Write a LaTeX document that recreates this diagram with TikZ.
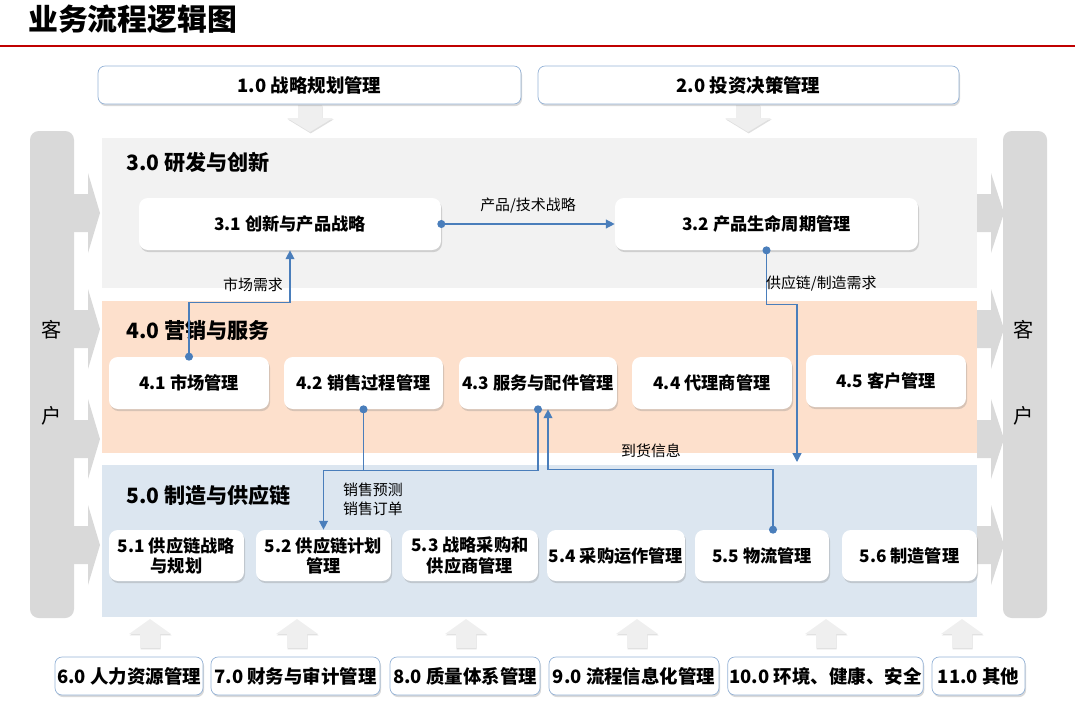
\documentclass[tikz,border=0pt]{standalone}
\usepackage{fontspec}
\setmainfont{Noto Sans CJK SC}
\usetikzlibrary{arrows.meta, positioning, calc, shadows}
\definecolor{TitleRed}{HTML}{C00000}
\definecolor{BandGray}{HTML}{F2F2F2}
\definecolor{BandPeach}{HTML}{FDE0CC}
\definecolor{BandBlue}{HTML}{DCE6F0}
\definecolor{CustGray}{HTML}{D9D9D9}
\definecolor{BoxBorder}{HTML}{95B3D7}
\definecolor{LinkBlue}{HTML}{4A7EBB}
\definecolor{ArrowFill}{HTML}{EFEFEF}

\begin{document}
\begin{tikzpicture}[
        x=0.02cm, y=-0.02cm,
        pbox/.style={rectangle, fill=white, rounded corners=5pt, minimum height=1.04cm, inner sep=1pt, align=center, font=\fontsize{9.8}{11.5}\selectfont\bfseries, drop shadow={shadow xshift=0.6pt, shadow yshift=-1.2pt, opacity=0.3}},
        obox/.style={rectangle, draw=BoxBorder, fill=white, rounded corners=4pt, minimum height=0.76cm, inner sep=1pt, font=\fontsize{10.5}{12}\selectfont\bfseries, drop shadow={shadow xshift=0.6pt, shadow yshift=-1.2pt, opacity=0.3}},
        bandtitle/.style={anchor=west, font=\fontsize{12}{14}\selectfont\bfseries},
        custtext/.style={font=\fontsize{11.5}{13}\selectfont},
        lbl/.style={font=\fontsize{8.5}{10.5}\selectfont, inner sep=1pt},
        link/.style={draw=LinkBlue, line width=0.75pt, -{Triangle[length=5pt, width=5pt]}},
        wire/.style={draw=LinkBlue, line width=0.75pt},
        dot/.style={fill=LinkBlue},
        blockarr/.style={fill=ArrowFill, drop shadow={shadow xshift=0.4pt, shadow yshift=-0.8pt, opacity=0.25}}
      ]
        \useasboundingbox (0,0) rectangle (1075,704);

        \node[anchor=west, font=\fontsize{17}{20}\selectfont\bfseries] (title) at (22,19) {业务流程逻辑图};
        \draw[TitleRed, line width=1.7pt] (0,46) -- (1075,46);

        \fill[BandGray] (102,138) rectangle (977,288);
        \fill[BandPeach] (102,301) rectangle (977,453);
        \fill[BandBlue] (102,465) rectangle (977,617);

        \fill[CustGray, rounded corners=5pt] (30,131) rectangle (74,618);
        \fill[CustGray, rounded corners=5pt] (1003,131) rectangle (1047,618);
        \foreach \yc in {213,329,439,545} {
          \fill[CustGray] (70,\yc-19) -- (88,\yc-19) -- (88,\yc-40) -- (100,\yc) -- (88,\yc+40) -- (88,\yc+19) -- (70,\yc+19) -- cycle;
          \fill[CustGray] (977,\yc-19) -- (991,\yc-19) -- (991,\yc-40) -- (1004,\yc) -- (991,\yc+40) -- (991,\yc+19) -- (977,\yc+19) -- cycle;
        }
        \node[custtext] (custL1) at (52,330) {客};
        \node[custtext] (custL2) at (52,416) {户};
        \node[custtext] (custR1) at (1024,330) {客};
        \node[custtext] (custR2) at (1024,416) {户};

        \foreach \xc in {310,748}
          \path[blockarr] (\xc-12,105) -- (\xc+12,105) -- (\xc+12,118) -- (\xc+23,118) -- (\xc,132) -- (\xc-23,118) -- (\xc-12,118) -- cycle;
        \foreach \xc in {150,297,466,637,826,962}
          \path[blockarr] (\xc-10,648) -- (\xc+10,648) -- (\xc+10,634) -- (\xc+21,634) -- (\xc,619) -- (\xc-21,634) -- (\xc-10,634) -- cycle;

        \node[obox, minimum width=8.46cm] (plan) at (309.5,85) {1.0 战略规划管理};
        \node[obox, minimum width=8.42cm] (invest) at (748.5,85) {2.0 投资决策管理};

        \node[bandtitle] (rd) at (120,162) {3.0 研发与创新};
        \node[bandtitle] (mkt) at (120,330) {4.0 营销与服务};
        \node[bandtitle] (scm) at (120,495) {5.0 制造与供应链};

        \node[pbox, minimum width=6.04cm] (innov) at (290,224) {3.1 创新与产品战略};
        \node[pbox, minimum width=6.06cm] (plm) at (766.5,224) {3.2 产品生命周期管理};

        \node[pbox, minimum width=3.2cm] (market) at (189,383) {4.1 市场管理};
        \node[pbox, minimum width=3.18cm] (sales) at (363.5,383) {4.2 销售过程管理};
        \node[pbox, minimum width=3.16cm] (service) at (538,383) {4.3 服务与配件管理};
        \node[pbox, minimum width=3.2cm] (agent) at (712,383) {4.4 代理商管理};
        \node[pbox, minimum width=3.2cm] (customer) at (886,381) {4.5 客户管理};

        \node[pbox, minimum width=2.7cm, minimum height=1.02cm] (scstrat) at (176.5,555.5) {5.1 供应链战略\\与规划};
        \node[pbox, minimum width=2.7cm, minimum height=1.02cm] (scplan) at (323.5,555.5) {5.2 供应链计划\\管理};
        \node[pbox, minimum width=2.72cm, minimum height=1.02cm] (sourcing) at (470,555.5) {5.3 战略采购和\\供应商管理};
        \node[pbox, minimum width=2.68cm, minimum height=1.02cm] (procure) at (616,555.5) {5.4 采购运作管理};
        \node[pbox, minimum width=2.68cm, minimum height=1.02cm] (logis) at (762,555.5) {5.5 物流管理};
        \node[pbox, minimum width=2.7cm, minimum height=1.02cm] (mfg) at (909.5,555.5) {5.6 制造管理};

        \node[obox, minimum width=2.96cm] (hr) at (129,676) {6.0 人力资源管理};
        \node[obox, minimum width=3.38cm] (fin) at (295.5,676) {7.0 财务与审计管理};
        \node[obox, minimum width=3.0cm] (qa) at (465,676) {8.0 质量体系管理};
        \node[obox, minimum width=3.4cm] (it) at (634,676) {9.0 流程信息化管理};
        \node[obox, minimum width=3.9cm] (ehs) at (825.5,676) {10.0 环境、健康、安全};
        \node[obox, minimum width=1.86cm] (misc) at (978.5,676) {11.0 其他};

        \draw[link] (innov.east) -- node[lbl, above=5pt] {产品/技术战略} (plm.west);
        \fill[dot] (innov.east) circle (2.3pt);

        \draw[link] (market.north) -- ++(0,-54) -| (innov.south);
        \fill[dot] (market.north) circle (2.3pt);
        \node[lbl, anchor=east] (mktneed) at (285,285) {市场需求};

        \coordinate (mfgin) at (797,462);
        \draw[link] (plm.south) -- ++(0,54) -| (mfgin);
        \fill[dot] (plm.south) circle (2.3pt);
        \node[lbl, anchor=west] (scneed) at (764,283) {供应链/制造需求};

        \draw[wire] (sales.south) -- ++(0,61);
        \draw[link] (service.south) -- ++(0,61) -| (scplan.north);
        \fill[dot] (sales.south) circle (2.3pt);
        \fill[dot] (service.south) circle (2.3pt);
        \node[lbl, anchor=north west, align=left] (salesinfo) at (341,481) {销售预测\\销售订单};

        \draw[link] ($(logis.north)+(11,0)$) -- ++(0,-60) -| ($(service.south)+(10,0)$);
        \fill[dot] ($(logis.north)+(11,0)$) circle (2.3pt);
        \node[lbl] (arrival) at (651,451) {到货信息};
      \end{tikzpicture}
\end{document}
